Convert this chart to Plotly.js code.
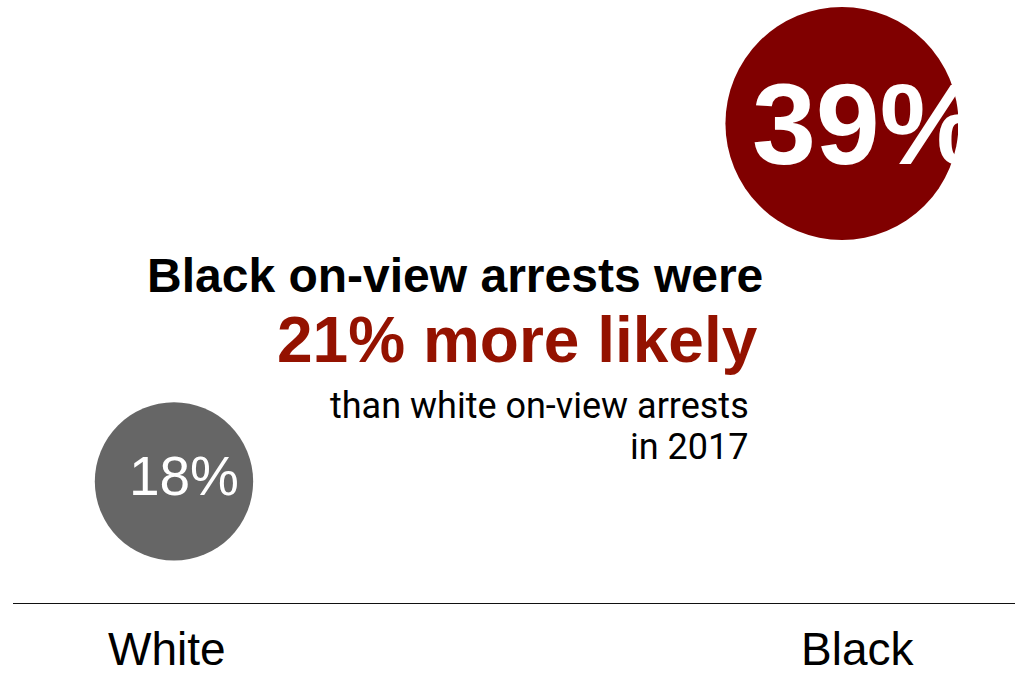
<!DOCTYPE html>
<html>
<head>
<meta charset="utf-8">
<script src="https://cdn.plot.ly/plotly-3.0.1.min.js"></script>
<style>html,body{margin:0;padding:0;background:#fff;}#chart{width:1015px;height:679px;}</style>
</head>
<body>
<div id="chart"></div>
<script>
// ---- data ----
var categories = ['White', 'Black'];
var arrestShare = [18, 39];           // % of on-view arrests
var bubbleColors = ['#666666', '#800000'];
var headline = 'Black on-view arrests were';
var highlight = '21% more likely';
var subline1 = 'than white on-view arrests';
var subline2 = 'in 2017';

// ---- geometry helpers (layout only) ----
var W = 1015, H = 679;
var mL = 13, mR = 57, mT = 0, mB = 76;
var pw = W - mL - mR, ph = H - mT - mB;
function px(xp){ return (xp - mL) / pw; }
function py(yp){ return (H - mB - yp) / ph; }

var xRange = [-0.241, 1.1737];
var yRange = [10.87, 46.24];
var xUnit = pw / (xRange[1] - xRange[0]);
var yUnit = ph / (yRange[1] - yRange[0]);
function shiftX(r, dpx){ return [r[0] - dpx / xUnit, r[1] - dpx / xUnit]; }
function shiftY(r, dpx){ return [r[0] + dpx / yUnit, r[1] + dpx / yUnit]; }

var labels = arrestShare.map(function(v){ return v + '%'; });

var bubbles = {
  type: 'scatter', mode: 'markers',
  x: categories, y: arrestShare,
  marker: { size: arrestShare, sizemode: 'area', sizeref: 0.001436,
            color: bubbleColors, line: { width: 0 }, opacity: 1 },
  cliponaxis: true, hoverinfo: 'skip', xaxis: 'x', yaxis: 'y'
};
var whiteText = {
  type: 'scatter', mode: 'text',
  x: [categories[0]], y: [arrestShare[0]], text: [labels[0]],
  textposition: 'middle center',
  textfont: { family: 'Liberation Sans, Arial, sans-serif', size: 55, color: '#ffffff' },
  cliponaxis: true, hoverinfo: 'skip', xaxis: 'x3', yaxis: 'y'
};
var blackText = {
  type: 'scatter', mode: 'text',
  x: [categories[1]], y: [arrestShare[1]], text: [labels[1]],
  textposition: 'middle center',
  textfont: { family: 'Liberation Sans, Arial, sans-serif', size: 115, color: '#ffffff', weight: 'bold' },
  cliponaxis: true, hoverinfo: 'skip', xaxis: 'x2', yaxis: 'y2'
};

var hiddenCat = { type: 'category', categoryorder: 'array', categoryarray: categories,
  visible: false, showgrid: false, zeroline: false, fixedrange: true };

var layout = {
  width: W, height: H,
  margin: { l: mL, r: mR, t: mT, b: mB, pad: 0 },
  paper_bgcolor: '#ffffff', plot_bgcolor: '#ffffff',
  showlegend: false,
  xaxis: Object.assign({}, hiddenCat, { range: xRange }),
  xaxis2: Object.assign({}, hiddenCat, { overlaying: 'x', range: shiftX(xRange, 25) }),
  xaxis3: Object.assign({}, hiddenCat, { overlaying: 'x', range: shiftX(xRange, 10) }),
  yaxis: { range: yRange, visible: false, showgrid: false, zeroline: false, fixedrange: true },
  yaxis2: { overlaying: 'y', range: shiftY(yRange, 12), visible: false, showgrid: false, zeroline: false, fixedrange: true },
  shapes: [{
    type: 'line', xref: 'paper', yref: 'paper',
    x0: 0, x1: px(1015), y0: py(603.5), y1: py(603.5),
    line: { color: '#111111', width: 1 }
  }],
  annotations: [
    { xref: 'paper', yref: 'paper', x: px(765), y: py(292 - 0.347 * 48),
      xanchor: 'right', yanchor: 'middle', showarrow: false, text: headline,
      font: { family: 'Liberation Sans, Arial, sans-serif', size: 48, color: '#000000', weight: 'bold' } },
    { xref: 'paper', yref: 'paper', x: px(760), y: py(362 - 0.347 * 64),
      xanchor: 'right', yanchor: 'middle', showarrow: false, text: highlight,
      font: { family: 'Liberation Sans, Arial, sans-serif', size: 64, color: '#941200', weight: 'bold' } },
    { xref: 'paper', yref: 'paper', x: px(751), y: py(418 - 0.342 * 36),
      xanchor: 'right', yanchor: 'middle', showarrow: false, text: subline1,
      font: { family: 'Roboto, sans-serif', size: 36, color: '#000000' } },
    { xref: 'paper', yref: 'paper', x: px(751), y: py(459 - 0.342 * 36),
      xanchor: 'right', yanchor: 'middle', showarrow: false, text: subline2,
      font: { family: 'Roboto, sans-serif', size: 36, color: '#000000' } },
    { xref: 'x', yref: 'paper', x: categories[0], xshift: -7, y: py(665 - 0.347 * 46),
      xanchor: 'center', yanchor: 'middle', showarrow: false, text: categories[0],
      font: { family: 'Liberation Sans, Arial, sans-serif', size: 46, color: '#000000' } },
    { xref: 'x', yref: 'paper', x: categories[1], xshift: 16, y: py(665 - 0.347 * 46),
      xanchor: 'center', yanchor: 'middle', showarrow: false, text: categories[1],
      font: { family: 'Liberation Sans, Arial, sans-serif', size: 46, color: '#000000' } }
  ]
};

Plotly.newPlot('chart', [bubbles, whiteText, blackText], layout, { displayModeBar: false, staticPlot: true });
</script>
</body>
</html>
